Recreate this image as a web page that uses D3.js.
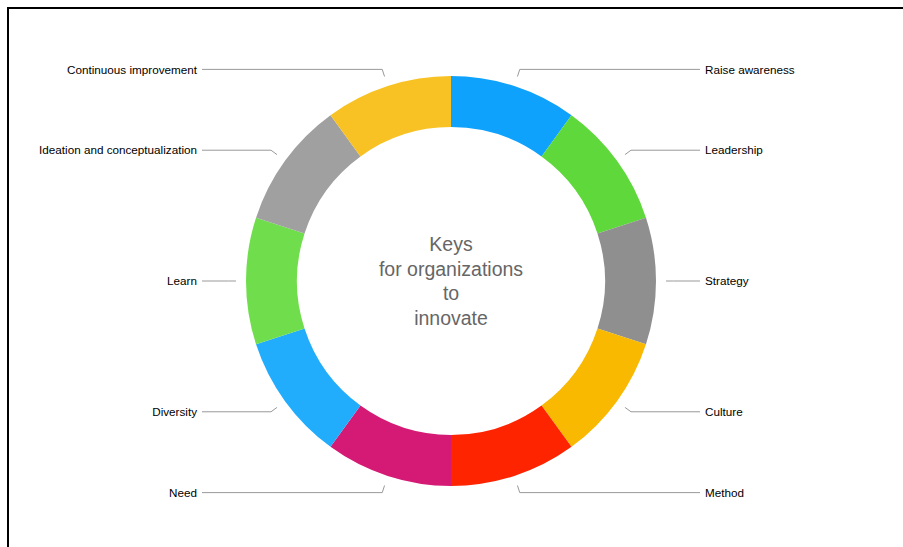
<!DOCTYPE html>
<html>
<head>
<meta charset="utf-8">
<script src="https://cdn.jsdelivr.net/npm/d3@7"></script>
<style>
  html, body { margin: 0; padding: 0; background: #fff; }
  svg { display: block; font-family: "Liberation Sans", Arial, Helvetica, sans-serif; }
</style>
</head>
<body>
<svg id="chart" width="903" height="547"></svg>
<script>
const labels = [
  "Raise awareness", "Leadership", "Strategy", "Culture", "Method",
  "Need", "Diversity", "Learn", "Ideation and conceptualization", "Continuous improvement"
];
const values = [1, 1, 1, 1, 1, 1, 1, 1, 1, 1];
const colors = [
  "#0ea2fc", "#5ed83a", "#8f8f8f", "#f8b900", "#ff2400",
  "#d41a75", "#22adfc", "#70de4c", "#a0a0a0", "#f8c224"
];
const centerLines = ["Keys", "for organizations", "to", "innovate"];

const data = labels.map((label, i) => ({ label, value: values[i], color: colors[i] }));

const svg = d3.select("#chart");
const cx = 451;
const cy = 281;
const outerR = 205;
const innerR = 154;

// frame
svg.append("rect")
  .attr("x", 8).attr("y", 8)
  .attr("width", 1000).attr("height", 1000)
  .attr("fill", "none")
  .attr("stroke", "#000")
  .attr("stroke-width", 2);

const g = svg.append("g").attr("transform", `translate(${cx},${cy})`);

const pie = d3.pie().value((d) => d.value).sort(null);
const arcs = pie(data);

const arc = d3.arc().innerRadius(innerR).outerRadius(outerR);
const startArc = d3.arc().innerRadius(215).outerRadius(215);
const elbowArc = d3.arc().innerRadius(222.5).outerRadius(222.5);

g.selectAll("path.slice")
  .data(arcs)
  .join("path")
  .attr("class", "slice")
  .attr("d", arc)
  .attr("fill", (d) => d.data.color);

const midAngle = (d) => d.startAngle + (d.endAngle - d.startAngle) / 2;
const lineX = 249;
const textX = 254;

g.selectAll("polyline")
  .data(arcs)
  .join("polyline")
  .attr("fill", "none")
  .attr("stroke", "#999")
  .attr("stroke-width", 1)
  .attr("points", (d) => {
    const a = startArc.centroid(d);
    const b = elbowArc.centroid(d);
    const side = midAngle(d) < Math.PI ? 1 : -1;
    const c = [side * lineX, b[1]];
    return [a, b, c];
  });

g.selectAll("text.label")
  .data(arcs)
  .join("text")
  .attr("class", "label")
  .attr("x", (d) => (midAngle(d) < Math.PI ? textX : -textX))
  .attr("y", (d) => elbowArc.centroid(d)[1])
  .attr("dy", "0.35em")
  .attr("text-anchor", (d) => (midAngle(d) < Math.PI ? "start" : "end"))
  .attr("font-size", 11.7)
  .attr("fill", "#000")
  .text((d) => d.data.label);

g.append("text")
  .attr("text-anchor", "middle")
  .attr("font-size", 19.5)
  .attr("fill", "#666")
  .selectAll("tspan")
  .data(centerLines)
  .join("tspan")
  .attr("x", 0)
  .attr("y", (d, i) => (i - 1.5) * 24.5)
  .attr("dy", "0.35em")
  .text((d) => d);
</script>
</body>
</html>
